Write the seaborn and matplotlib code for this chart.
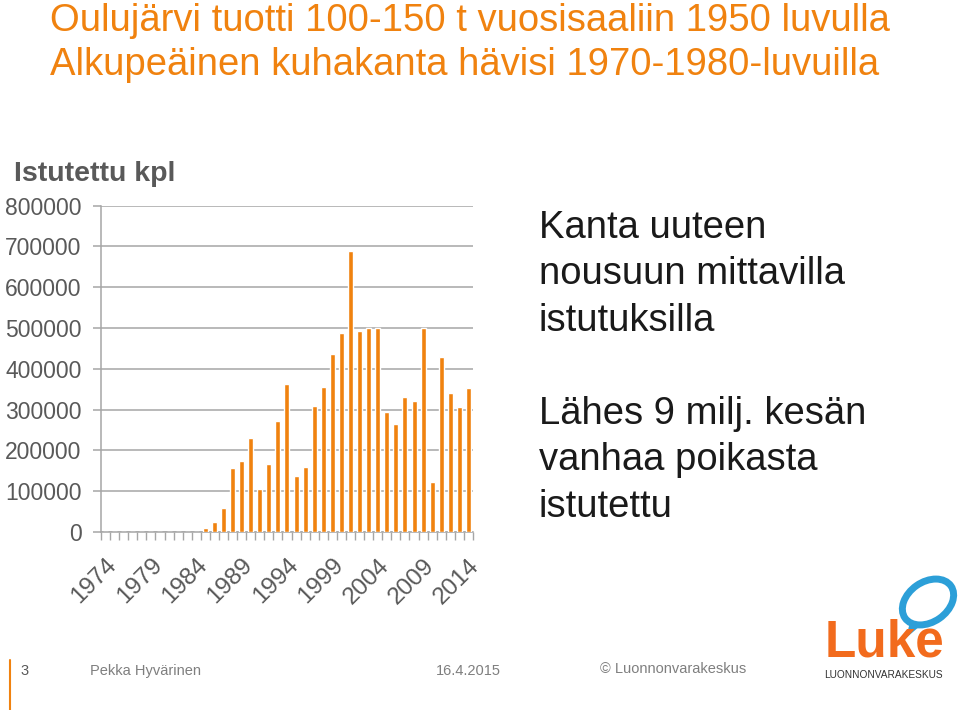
#!/usr/bin/env python3

import matplotlib
matplotlib.use("Agg")
import matplotlib.pyplot as plt
import numpy as np
import pandas as pd
import seaborn as sns
from matplotlib.patches import Ellipse, Polygon
from matplotlib.ticker import FixedLocator


# data
years = [str(y) for y in range(1974, 2015)]
stocked = [0, 0, 0, 0, 0, 0, 0, 0, 0, 0, 0,
           10000, 25000, 60000, 158000, 175000, 230000, 106000, 166000,
           272000, 362000, 138000, 159000, 309000, 355000, 437000, 487000,
           688000, 493000, 501000, 500000, 294000, 265000, 331000, 321000,
           501000, 122000, 428000, 341000, 306000, 353000]
label_years = ["1974", "1979", "1984", "1989", "1994", "1999", "2004", "2009", "2014"]
y_ticks = [0, 100000, 200000, 300000, 400000, 500000, 600000, 700000, 800000]

ORANGE = "#F0820F"
GRID = "#A6A6A6"
TXT = "#595959"

sns.set_theme(style="white")
plt.rcParams["font.family"] = ["Liberation Sans", "DejaVu Sans"]

fig = plt.figure(figsize=(9.6, 7.1), dpi=100)
ax = fig.add_axes([0.1052, 0.2507, 0.3875, 0.4596])
ax.set_axisbelow(True)

df = pd.DataFrame({"vuosi": years, "kpl": stocked})
sns.barplot(data=df, x="vuosi", y="kpl", color=ORANGE, saturation=1,
            width=0.55, ax=ax, zorder=3)

ax.set_ylim(0, 800000)
ax.set_xlim(-0.5, len(years) - 0.5)
ax.set_yticks(y_ticks)
ax.set_yticklabels([str(v) for v in y_ticks], fontsize=16.5, color=TXT)
ax.yaxis.grid(True, color=GRID, linewidth=1.1, zorder=0)
ax.set_xlabel("")
ax.set_ylabel("")

pos = [years.index(y) for y in label_years]
ax.set_xticks(pos)
ax.set_xticklabels(label_years, rotation=45, ha="right", rotation_mode="anchor",
                   fontsize=17.5, color=TXT)
ax.xaxis.set_minor_locator(FixedLocator(np.arange(-0.5, len(years), 1.0)))
ax.tick_params(axis="x", which="major", length=0, pad=16)
ax.tick_params(axis="x", which="minor", length=6, color=GRID, width=1, bottom=True)
ax.tick_params(axis="y", length=6, color=GRID, width=1.1, left=True, pad=8)

for side in ["top", "right"]:
    ax.spines[side].set_visible(False)
for side in ["left", "bottom"]:
    ax.spines[side].set_color(GRID)
    ax.spines[side].set_linewidth(1.1)

fig.text(0.015, 0.755, "Istutettu kpl", fontsize=20.5, fontweight="bold", color=TXT,
         va="center")

# headline
fig.text(0.052, 0.971, "Oulujärvi tuotti 100-150 t vuosisaaliin 1950 luvulla",
         fontsize=27.5, color=ORANGE, va="center")
fig.text(0.052, 0.908, "Alkupeäinen kuhakanta hävisi 1970-1980-luvuilla",
         fontsize=27.5, color=ORANGE, va="center")

# side notes
notes = ["Kanta uuteen", "nousuun mittavilla", "istutuksilla", "",
         "Lähes 9 milj. kesän", "vanhaa poikasta", "istutettu"]
for i, line in enumerate(notes):
    fig.text(0.561, 0.679 - i * 0.0655, line, fontsize=27.5, color="#1A1A1A",
             va="center")

# footer
fig.add_artist(plt.Line2D([0.0105, 0.0105], [0.0, 0.07], color=ORANGE, linewidth=1.5))
fig.text(0.021, 0.055, "3", fontsize=10.5, color=TXT, va="center")
fig.text(0.094, 0.055, "Pekka Hyvärinen", fontsize=10.5, color="#7F7F7F", va="center")
fig.text(0.454, 0.055, "16.4.2015", fontsize=10.5, color="#7F7F7F", va="center")
fig.text(0.625, 0.058, "© Luonnonvarakeskus", fontsize=10.5, color="#7F7F7F", va="center")

# logo
fig.add_artist(Ellipse((9.28, 1.08), 0.56, 0.40, angle=35,
                       facecolor="white", edgecolor="#2C9FD8", linewidth=5,
                       transform=fig.dpi_scale_trans))
fig.add_artist(Polygon([[9.10, 0.88], [9.06, 0.72], [9.20, 0.84]],
                       closed=True, facecolor="#2C9FD8", edgecolor="none",
                       transform=fig.dpi_scale_trans))
fig.text(0.921, 0.095, "Luke", fontsize=37, fontweight="bold", color="#F26B1D",
         ha="center", va="center")
fig.text(0.920, 0.049, "LUONNONVARAKESKUS", fontsize=7.3, color="#333333",
         ha="center", va="center")

fig.savefig("out.png", dpi=100)
